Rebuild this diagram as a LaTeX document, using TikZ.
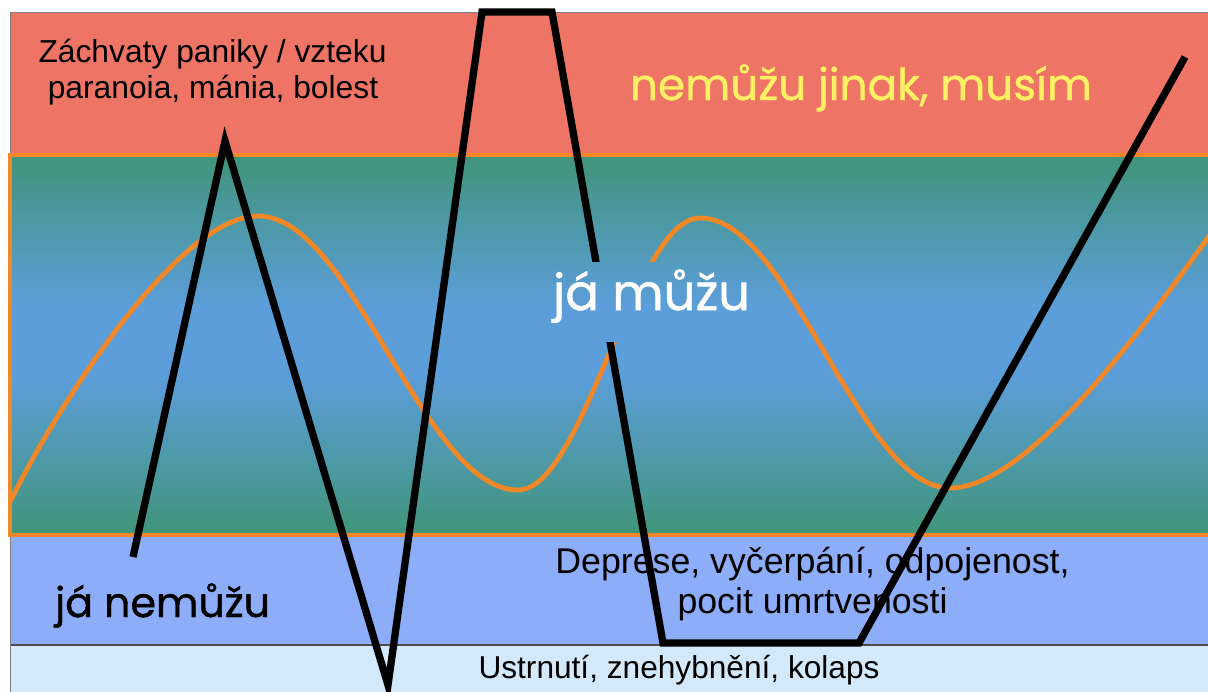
\documentclass[tikz,border=0pt]{standalone}
\usepackage{fontspec}
\usepackage{graphicx}
\setmainfont{Liberation Sans}
\newfontfamily\comic[FakeBold=1]{Poppins}
\definecolor{redband}{RGB}{238,116,101}
\definecolor{greenmid}{RGB}{64,148,122}
\definecolor{bluemid}{RGB}{92,158,218}
\definecolor{lowband}{RGB}{141,173,248}
\definecolor{botband}{RGB}{211,233,250}
\definecolor{orangeline}{RGB}{242,135,40}
\definecolor{yellowtxt}{RGB}{255,240,100}
\pgfdeclareverticalshading{bandshade}{100bp}{color(0bp)=(greenmid); color(25bp)=(greenmid); color(46bp)=(bluemid); color(55bp)=(bluemid); color(75bp)=(greenmid); color(100bp)=(greenmid)}
\begin{document}
\begin{tikzpicture}[x=0.025cm,y=-0.025cm,
  midshade/.style={shading=bandshade},
  blackline/.style={draw=black, line width=5.2pt, line join=miter},
  waveline/.style={draw=orangeline, line width=3.4pt},
  arialtxt/.style={anchor=base, inner sep=0pt, text=black},
  comictxt/.style={anchor=base, inner sep=0pt}]
\useasboundingbox (0,0) rectangle (1208,691);
\fill[white] (0,0) rectangle (1208,691);
\clip (0,0) rectangle (1208,691);
% bands
\fill[redband] (10,12) rectangle (1215,155);
\draw[gray, line width=0.6pt] (10,155) -- (10,12) -- (1215,12);
\fill[lowband] (10,535) rectangle (1215,645);
\fill[botband] (10,645) rectangle (1215,700);
\draw[black!70, line width=0.8pt] (10,645) -- (1215,645);
\draw[gray, line width=0.6pt] (10,535) -- (10,700);
\shade[midshade, draw=orangeline, line width=2.2pt] (10,155) rectangle (1215,535);
% wave
\draw[waveline] (10,502) .. controls (60,400) and (180,216) .. (258,216)
  cos (388,353) sin (518,490) cos (609,354) sin (700,218)
  cos (825,353) sin (950,488) .. controls (1030,488) and (1150,318) .. (1212,232);
% black line
\coordinate (p0) at (133,557);
\coordinate (p1) at (225,141);
\coordinate (p2) at (388,685);
\coordinate (p3) at (482,12);
\coordinate (p4) at (552,12);
\coordinate (p5) at (663,643);
\coordinate (p6) at (859,643);
\coordinate (p7) at (1185,57);
\draw[blackline] (p0) -- (p1) -- (p2) -- (p3) -- (p4) -- (p5) -- (p6) -- (p7);
% cover behind "já můžu"
\begin{scope}
\clip (545,262) rectangle (762,341);
\shade[midshade] (10,155) rectangle (1215,535);
\end{scope}
% texts
\node[arialtxt, font=\fontsize{22.6}{27}\selectfont] (t1) at (212.5,62) {Záchvaty paniky / vzteku};
\node[arialtxt, font=\fontsize{22.6}{27}\selectfont] (t2) at (213,98) {paranoia, mánia, bolest};
\node[comictxt, text=yellowtxt] (t3) at (861,100) {\resizebox{11.55cm}{!}{\comic nemůžu jinak, musím}};
\node[comictxt, text=white] (t4) at (651.5,310) {\resizebox{4.925cm}{!}{\comic já můžu}};
\node[comictxt, text=black] (t5) at (162.5,617) {\resizebox{5.375cm}{!}{\comic já nemůžu}};
\node[arialtxt, font=\fontsize{25.4}{30}\selectfont] (t6) at (812.5,573) {Deprese, vyčerpání, odpojenost,};
\node[arialtxt, font=\fontsize{25.4}{30}\selectfont] (t7) at (812.5,613) {pocit umrtvenosti};
\node[arialtxt, font=\fontsize{22.5}{27}\selectfont] (t8) at (679,678) {Ustrnutí, znehybnění, kolaps};
\end{tikzpicture}
\end{document}
